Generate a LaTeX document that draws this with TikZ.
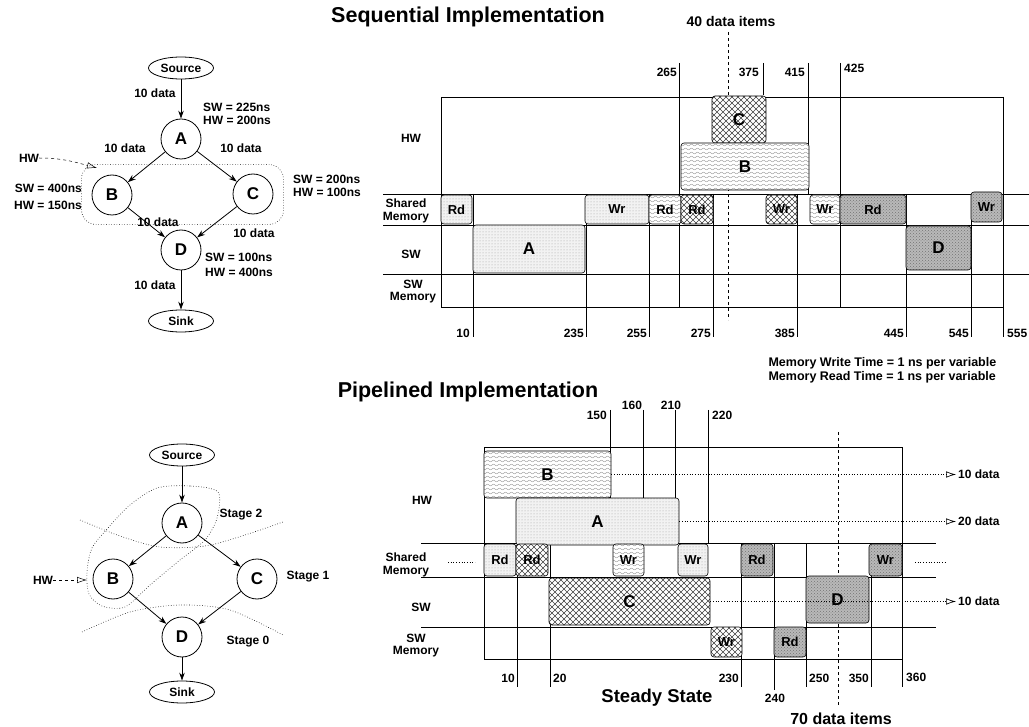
\documentclass[tikz,border=0pt]{standalone}
\usepackage{fontspec}
\setmainfont{Liberation Sans}
\usetikzlibrary{shapes, arrows.meta, positioning, fit, patterns}

% fill patterns for the task boxes
\pgfdeclarepatternformonly{wavy}{\pgfqpoint{-1pt}{-1pt}}{\pgfqpoint{7pt}{5pt}}{\pgfqpoint{6pt}{4pt}}{%
  \pgfsetlinewidth{0.4pt}%
  \pgfpathmoveto{\pgfqpoint{0pt}{2pt}}%
  \pgfpathcurveto{\pgfqpoint{1pt}{3.2pt}}{\pgfqpoint{2pt}{3.2pt}}{\pgfqpoint{3pt}{2pt}}%
  \pgfpathcurveto{\pgfqpoint{4pt}{0.8pt}}{\pgfqpoint{5pt}{0.8pt}}{\pgfqpoint{6pt}{2pt}}%
  \pgfusepath{stroke}}
\pgfdeclarepatternformonly{xhatch}{\pgfqpoint{-1pt}{-1pt}}{\pgfqpoint{7pt}{7pt}}{\pgfqpoint{6pt}{6pt}}{%
  \pgfsetlinewidth{0.4pt}%
  \pgfpathmoveto{\pgfqpoint{0pt}{0pt}}\pgfpathlineto{\pgfqpoint{6pt}{6pt}}%
  \pgfpathmoveto{\pgfqpoint{0pt}{6pt}}\pgfpathlineto{\pgfqpoint{6pt}{0pt}}%
  \pgfusepath{stroke}}

\begin{document}
\begin{tikzpicture}[%
    x=1pt, y=-1pt,                        % pixel grid of the scan
    >={Stealth[length=8pt, width=5.5pt]},
    font=\fontsize{12}{13}\selectfont\bfseries,
    ]

\tikzset{
  task/.style={on grid, circle, draw, line width=0.8pt, minimum size=40pt, inner sep=0pt,
               font=\fontsize{17}{17}\selectfont\bfseries},
  term/.style={on grid, ellipse, draw, line width=0.8pt, minimum width=65pt, minimum height=22pt, inner sep=0pt},
  lbl/.style={inner sep=0pt},
  edge/.style={->, line width=0.8pt},
  cell/.style={draw, rounded corners=3pt, inner sep=0pt, line width=0.6pt},
  cellfont/.style={inner sep=0pt, font=\fontsize{13}{13}\selectfont\bfseries},
  bigfont/.style={inner sep=0pt, font=\fontsize{17}{17}\selectfont\bfseries},
  stip/.style={cell, preaction={fill=gray!10}, pattern=dots, pattern color=gray!75},
  wave/.style={cell, preaction={fill=white}, pattern=wavy, pattern color=gray!85},
  hatch/.style={cell, preaction={fill=white}, pattern=xhatch, pattern color=black!75},
  dark/.style={cell, preaction={fill=gray!55}, pattern=crosshatch dots, pattern color=black!55},
  title/.style={font=\fontsize{21.5}{22}\selectfont\bfseries},
  grid/.style={line width=0.5pt},
  outarrow/.style={dotted, line width=0.7pt, -{Latex[open, length=10pt, width=6.5pt]}, shorten >=2pt},
  hwarrow/.style={dashed, line width=0.5pt, -{Latex[open, length=10pt, width=6.5pt]}},
  };

\useasboundingbox (0,0) rectangle (1029,727);

% SEQUENTIAL graph
\node[term] (srcS) at (181,68) {Source};
\node[task, below=71pt of srcS] (aS) {A};
\node[task, below left=56pt and 69pt of aS] (bS) {B};
\node[task, below right=55pt and 72pt of aS] (cS) {C};
\node[task, below=111pt of aS] (dS) {D};
\node[term, below=71pt of dS] (sinkS) {Sink};

\draw[edge] (srcS) -- (aS);
\draw[edge] (aS) -- (bS);
\draw[edge] (aS) -- (cS);
\draw[edge] (bS) -- (dS);
\draw[edge] (cS) -- (dS);
\draw[edge] (dS) -- (sinkS);

\node[lbl] (inS) at (155,93) {10 data};
\node[lbl] (abS) at (125,148) {10 data};
\node[lbl] (acS) at (241,148) {10 data};
\node[lbl] (bdS) at (158,222) {10 data};
\node[lbl] (cdS) at (254,233) {10 data};
\node[lbl] (outS) at (155,285) {10 data};

\node[lbl, anchor=west, align=left] (costA) at (203,114) {SW = 225ns\\HW = 200ns};
\node[lbl, anchor=east, align=right] (costB) at (82,197) {SW = 400ns\\[4pt]HW = 150ns};
\node[lbl, anchor=west, align=left] (costC) at (293,186) {SW = 200ns\\HW = 100ns};
\node[lbl, anchor=west, align=left] (costD) at (205,265) {SW = 100ns\\[2pt]HW = 400ns};

\node[draw, dotted, line width=0.6pt, rounded corners=14pt, fit=(bS) (cS),
      inner xsep=10pt, inner ysep=9pt] (hwGrpS) {};
\node[lbl] (hwS) at (29,158) {HW};
\coordinate (hwTipS) at (97,168);
\draw[hwarrow] (hwS.east) to[out=0, in=165] (hwTipS);

% PIPELINED graph
\node[term] (srcP) at (182,455) {Source};
\node[task, below=68pt of srcP] (aP) {A};
\node[task, below left=56pt and 69pt of aP] (bP) {B};
\node[task, below right=56pt and 75pt of aP] (cP) {C};
\node[task, below=114pt of aP] (dP) {D};
\node[term, below=55pt of dP] (sinkP) {Sink};

\draw[edge] (srcP) -- (aP);
\draw[edge] (aP) -- (bP);
\draw[edge] (aP) -- (cP);
\draw[edge] (bP) -- (dP);
\draw[edge] (cP) -- (dP);
\draw[edge] (dP) -- (sinkP);

% stage cuts
\draw[dotted, line width=0.6pt] plot[smooth] coordinates {(80,520) (120,536) (160,547) (205,546) (245,535) (283,522)};
\draw[dotted, line width=0.6pt] plot[smooth] coordinates {(82,632) (130,612) (180,605) (230,610) (283,635)};
\draw[dotted, line width=0.6pt] plot[smooth cycle] coordinates {(218,492) (190,486) (157,488) (130,505) (108,528)
      (92,548) (87,572) (89,594) (102,606) (125,607) (150,585) (180,560) (205,540) (217,518)};

\node[lbl] (st2) at (241,515) {Stage 2};
\node[lbl] (st1) at (308,577) {Stage 1};
\node[lbl] (st0) at (248,642) {Stage 0};
\node[lbl] (hwP) at (43,580) {HW};
\coordinate (hwTipP) at (87,580);
\draw[hwarrow] (hwP.east) -- (hwTipP);

% SEQUENTIAL timing
\node[title] (titleS) at (468,17) {Sequential Implementation};
\node[font=\fontsize{14}{14}\selectfont\bfseries] (itemsS) at (731,22) {40 data items};

\draw[grid] (441,97) rectangle (1003,307);
\foreach \y in {194,225,274} \draw[grid] (383,\y) -- (1029,\y);
\foreach \x in {473,586,649,713,797,906,971} \draw[grid] (\x,194) -- (\x,337);
\draw[grid] (679,63) -- (679,307);
\draw[grid] (763,63) -- (763,95);
\draw[grid] (808,63) -- (808,194);
\draw[grid] (840,63) -- (840,307);
\draw[grid] (1003,97) -- (1003,337);
\draw[dashed, line width=0.6pt] (728,32) -- (728,320);

\foreach \x/\t in {677/265, 759/375, 805/415} \node[lbl, anchor=east] (topS\t) at (\x,72) {\t};
\node[lbl, anchor=west] (topS425) at (844,68) {425};
\foreach \x/\t in {470/10, 584/235, 647/255, 711/275, 795/385, 904/445, 969/545}
  \node[lbl, anchor=east] (botS\t) at (\x,333) {\t};
\node[lbl, anchor=west] (botS555) at (1007,333) {555};

\node (hwRowS) at (411,138) {HW};
\node[align=center] (shmRowS) at (406,211) {Shared\\Memory};
\node (swRowS) at (411,254) {SW};
\node[align=center, font=\fontsize{12}{12}\selectfont\bfseries] (swmRowS) at (413,292) {SW\\Memory};

\node[stip, fit={(441,195) (472,224)}, label={[cellfont]center:Rd}] (rdS1) {};
\node[stip, fit={(473,225) (585,273)}, label={[bigfont]center:A}] (taskAS) {};
\node[stip, fit={(585,195) (649,224)}, label={[cellfont]center:Wr}] (wrS1) {};
\node[wave, fit={(649,195) (681,224)}, label={[cellfont]center:Rd}] (rdS2) {};
\node[hatch, fit={(681,195) (713,224)}, label={[cellfont]center:Rd}] (rdS3) {};
\node[hatch, fit={(712,96) (766,143)}, label={[bigfont]center:C}] (taskCS) {};
\node[wave, fit={(681,143) (809,190)}, label={[bigfont]center:B}] (taskBS) {};
\node[hatch, fit={(766,195) (797,224)}, label={[cellfont]center:Wr}] (wrS2) {};
\node[wave, fit={(810,195) (840,224)}, label={[cellfont]center:Wr}] (wrS3) {};
\node[dark, fit={(840,195) (906,224)}, label={[cellfont]center:Rd}] (rdS4) {};
\node[dark, fit={(906,226) (971,270)}, label={[bigfont]center:D}] (taskDS) {};
\node[dark, fit={(971,192) (1002,222)}, label={[cellfont]center:Wr}] (wrS4) {};

\node[anchor=west, align=left, font=\fontsize{12.5}{14}\selectfont\bfseries] (memNote) at (765,370)
  {Memory Write Time = 1 ns per variable\\Memory Read Time = 1 ns per variable};

% PIPELINED timing
\node[title] (titleP) at (468,392) {Pipelined Implementation};

\draw[grid] (484,447) rectangle (902,659);
\foreach \y in {543,577,627} \draw[grid] (421,\y) -- (936,\y);
\draw[grid] (902,659) -- (902,687);
\foreach \x in {517,550,741,806,871} \draw[grid] (\x,543) -- (\x,687);
\draw[grid] (774,543) -- (774,690);
\draw[grid] (610,410) -- (610,498);
\draw[grid] (643,410) -- (643,498);
\draw[grid] (675,410) -- (675,498);
\draw[grid] (708,410) -- (708,543);
\draw[dashed, line width=0.6pt] (838,432) -- (838,707);
\draw[dotted, line width=0.7pt] (448,562) -- (475,562);
\draw[dotted, line width=0.7pt] (915,562) -- (946,562);

\node[lbl, anchor=east] (topP150) at (607,415) {150};
\node[lbl] (topP160) at (632,405) {160};
\node[lbl] (topP210) at (671,405) {210};
\node[lbl, anchor=west] (topP220) at (712,415) {220};
\node[lbl, anchor=east] (botP10) at (515,678) {10};
\node[lbl, anchor=west] (botP20) at (553,678) {20};
\node[lbl, anchor=east] (botP230) at (739,678) {230};
\node[lbl] (botP240) at (775,698) {240};
\node[lbl, anchor=west] (botP250) at (809,678) {250};
\node[lbl, anchor=east] (botP350) at (869,678) {350};
\node[lbl, anchor=west] (botP360) at (906,677) {360};

\node (hwRowP) at (422,500) {HW};
\node[align=center] (shmRowP) at (406,565) {Shared\\Memory};
\node (swRowP) at (421,607) {SW};
\node[align=center, font=\fontsize{12}{12}\selectfont\bfseries] (swmRowP) at (416,646) {SW\\Memory};

\node[wave, fit={(484,451) (611,498)}, label={[bigfont]center:B}] (taskBP) {};
\node[stip, fit={(516,498) (679,545)}, label={[bigfont]center:A}] (taskAP) {};
\node[stip, fit={(484,544) (516,576)}, label={[cellfont]center:Rd}] (rdP1) {};
\node[hatch, fit={(516,544) (548,576)}, label={[cellfont]center:Rd}] (rdP2) {};
\node[wave, fit={(613,544) (644,576)}, label={[cellfont]center:Wr}] (wrP1) {};
\node[stip, fit={(678,544) (708,576)}, label={[cellfont]center:Wr}] (wrP2) {};
\node[dark, fit={(741,544) (773,576)}, label={[cellfont]center:Rd}] (rdP3) {};
\node[dark, fit={(869,544) (902,576)}, label={[cellfont]center:Wr}] (wrP3) {};
\node[hatch, fit={(549,578) (710,625)}, label={[bigfont]center:C}] (taskCP) {};
\node[dark, fit={(806,576) (869,623)}, label={[bigfont]center:D}] (taskDP) {};
\node[hatch, fit={(711,627) (742,657)}, label={[cellfont]center:Wr}] (wrP4) {};
\node[dark, fit={(774,627) (806,657)}, label={[cellfont]center:Rd}] (rdP4) {};

\node[lbl, anchor=west] (outB) at (958,474.5) {10 data};
\node[lbl, anchor=west] (outA) at (958,521.5) {20 data};
\node[lbl, anchor=west] (outD) at (958,601.5) {10 data};
\draw[outarrow] (taskBP) -- (outB);
\draw[outarrow] (taskAP) -- (outA);
\draw[outarrow] (taskCP) -- (outD);

\node[font=\fontsize{18.5}{19}\selectfont\bfseries] (steady) at (657,698) {Steady State};
\node[font=\fontsize{16}{16}\selectfont\bfseries] (itemsP) at (841,719) {70 data items};

\end{tikzpicture}
\end{document}
